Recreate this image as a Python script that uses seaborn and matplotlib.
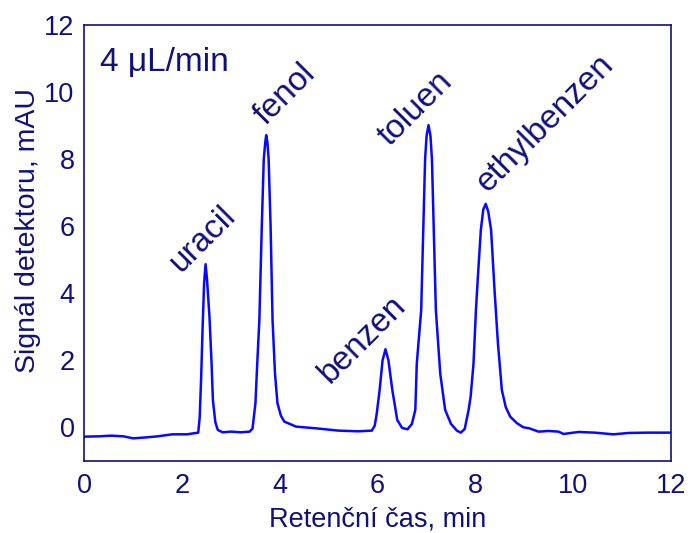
import matplotlib
matplotlib.use("Agg")
import matplotlib.pyplot as plt
import seaborn as sns
import pandas as pd

# Chromatogram trace: retention time (min) and detector signal (mAU)
time_min = [
    0.00, 0.30, 0.55, 0.80, 1.00, 1.20, 1.50, 1.80, 2.10, 2.33,
    2.36, 2.39, 2.42, 2.45, 2.48, 2.51, 2.56, 2.60, 2.63, 2.68,
    2.73, 2.83, 3.00, 3.20, 3.38, 3.44, 3.50, 3.54, 3.58, 3.63,
    3.67, 3.70, 3.72, 3.745, 3.77, 3.81, 3.85, 3.90, 3.95, 4.02,
    4.09, 4.33, 4.73, 5.20, 5.60, 5.88, 5.94, 5.98, 6.04, 6.10,
    6.16, 6.22, 6.30, 6.40, 6.50, 6.61, 6.70, 6.77, 6.80, 6.89,
    6.97, 7.00, 7.04, 7.08, 7.11, 7.19, 7.28, 7.38, 7.50, 7.62,
    7.70, 7.78, 7.86, 7.90, 7.96, 8.01, 8.05, 8.11, 8.16, 8.21,
    8.26, 8.32, 8.39, 8.46, 8.54, 8.62, 8.71, 8.85, 8.98, 9.10,
    9.29, 9.50, 9.70, 9.80, 10.11, 10.44, 10.82, 11.13, 11.50, 12.00,
]
signal_mau = [
    -0.28, -0.27, -0.25, -0.27, -0.33, -0.31, -0.27, -0.21, -0.21, -0.16,
    0.30, 1.50, 3.00, 4.30, 4.87, 4.40, 3.30, 2.00, 0.81, 0.15,
    -0.08, -0.15, -0.13, -0.15, -0.13, -0.04, 0.72, 2.00, 3.20, 6.00,
    8.00, 8.50, 8.72, 8.50, 8.00, 6.00, 3.20, 1.60, 0.72, 0.35,
    0.17, 0.02, -0.03, -0.10, -0.12, -0.10, 0.05, 0.40, 1.11, 2.00,
    2.33, 2.00, 1.11, 0.22, -0.02, -0.06, 0.10, 0.52, 1.90, 3.50,
    8.00, 8.70, 9.02, 8.70, 8.00, 3.50, 1.60, 0.52, 0.10, -0.10,
    -0.16, -0.05, 0.52, 0.90, 1.90, 3.50, 4.50, 5.89, 6.50, 6.67,
    6.45, 5.89, 4.10, 2.50, 1.11, 0.60, 0.32, 0.12, 0.00, -0.03,
    -0.13, -0.11, -0.13, -0.20, -0.14, -0.16, -0.21, -0.17, -0.16, -0.16,
]

# Compound names and where their labels start (time, signal)
compounds = ["uracil", "fenol", "benzen", "toluen", "ethylbenzen"]
label_time = [1.98, 3.71, 5.02, 6.25, 8.26]
label_signal = [4.62, 9.00, 1.28, 8.38, 6.98]

flow_rate_text = "4 \u03bcL/min"
x_ticks = [0, 2, 4, 6, 8, 10, 12]
y_ticks = [0, 2, 4, 6, 8, 10, 12]

navy = "#10107a"
trace_blue = "#0808ff"

sns.set_theme(style="white")
plt.rcParams["font.family"] = ["Liberation Sans", "DejaVu Sans"]

df = pd.DataFrame({"time": time_min, "signal": signal_mau})

fig = plt.figure(figsize=(6.9, 5.33), dpi=100)
ax = fig.add_axes([0.1222, 0.1355, 0.8503, 0.817])

sns.lineplot(data=df, x="time", y="signal", ax=ax, color=trace_blue,
             linewidth=1.8, estimator=None, sort=False)

ax.set_xlim(0, 12)
ax.set_ylim(-1, 12)
ax.set_xticks(x_ticks)
ax.set_yticks(y_ticks)
ax.set_xticks([1, 3, 5, 7, 9, 11], minor=True)
ax.set_yticks([-1, 1, 3, 5, 7, 9, 11], minor=True)

ax.tick_params(axis="both", which="major", direction="in", length=6.5,
               width=1.1, color=navy, labelcolor=navy, labelsize=19.5, pad=9)
ax.tick_params(axis="both", which="minor", direction="in", length=3.8,
               width=1.1, color=navy)
ax.tick_params(top=False, right=False, which="both")
ax.tick_params(axis="y", which="major", pad=7)

for side in ["left", "right", "top", "bottom"]:
    ax.spines[side].set_visible(True)
    ax.spines[side].set_color(navy)
    ax.spines[side].set_linewidth(1.2)

ax.set_xlabel("Retenční čas, min", color=navy, fontsize=19.5)
ax.set_ylabel("Signál detektoru, mAU", color=navy, fontsize=20.5)
ax.xaxis.set_label_coords(0.5, -0.106)
ax.yaxis.set_label_coords(-0.074, 0.528)

ax.text(0.32, 10.64, flow_rate_text, color=navy, fontsize=24,
        ha="left", va="baseline")

for name, tx, sy in zip(compounds, label_time, label_signal):
    ax.text(tx, sy, name, color=navy, fontsize=24, rotation=45,
            rotation_mode="anchor", ha="left", va="baseline")

fig.savefig("out.png", dpi=100)
